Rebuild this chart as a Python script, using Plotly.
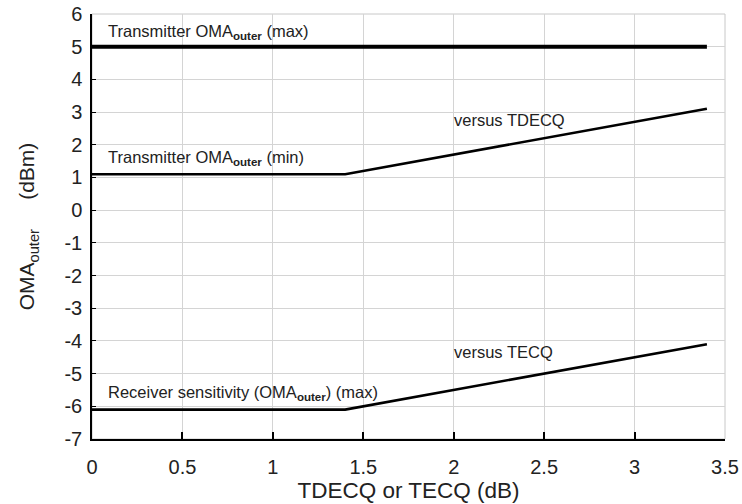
import plotly.graph_objects as go

# Data
x_max = [0, 3.4]
y_max = [5, 5]
x_tx_min = [0, 1.4, 3.4]
y_tx_min = [1.1, 1.1, 3.1]
x_rx = [0, 1.4, 3.4]
y_rx = [-6.1, -6.1, -4.1]

x_ticks = [0, 0.5, 1, 1.5, 2, 2.5, 3, 3.5]
x_tick_labels = ["0", "0.5", "1", "1.5", "2", "2.5", "3", "3.5"]
y_ticks = list(range(-7, 7))
y_tick_labels = [str(v) for v in y_ticks]

label_text = [
    "Transmitter OMA<sub><b>outer</b></sub> (max)",
    "Transmitter OMA<sub><b>outer</b></sub> (min)",
    "versus TDECQ",
    "versus TECQ",
    "Receiver sensitivity (OMA<sub><b>outer</b></sub>) (max)",
]
label_x = [0.08, 0.08, 1.99, 1.99, 0.08]
label_y = [5.45, 1.6, 2.75, -4.35, -5.6]

fig = go.Figure()
fig.add_trace(go.Scatter(x=x_max, y=y_max, mode="lines",
                         line=dict(color="black", width=4), showlegend=False))
fig.add_trace(go.Scatter(x=x_tx_min, y=y_tx_min, mode="lines",
                         line=dict(color="black", width=2.6), showlegend=False))
fig.add_trace(go.Scatter(x=x_rx, y=y_rx, mode="lines",
                         line=dict(color="black", width=2.6), showlegend=False))

for t, xx, yy in zip(label_text, label_x, label_y):
    fig.add_annotation(x=xx, y=yy, text=t, showarrow=False, xanchor="left",
                       yanchor="middle", font=dict(size=16.5, color="#222"))

fig.add_shape(type="rect", xref="paper", yref="paper", x0=0, y0=0, x1=1, y1=1,
              line=dict(color="#c8c8c8", width=1), layer="below")

fig.update_layout(
    width=742, height=504,
    margin=dict(l=92, r=17, t=14, b=65),
    paper_bgcolor="white", plot_bgcolor="white",
    font=dict(family="Liberation Sans, Arial, sans-serif", color="#222"),
    xaxis=dict(range=[0, 3.5], tickvals=x_ticks, ticktext=x_tick_labels,
               automargin=False,
               showgrid=True, gridcolor="#d4d4d4", gridwidth=1,
               showline=True, linecolor="black", linewidth=1.5,
               ticks="inside", ticklen=7, tickcolor="black", tickwidth=2,
               ticklabelstandoff=9,
               tickfont=dict(size=20), zeroline=False,
               title=dict(text="TDECQ or TECQ (dB)", font=dict(size=22.5), standoff=0)),
    yaxis=dict(range=[-7, 6], tickvals=y_ticks, ticktext=y_tick_labels,
               automargin=False,
               showgrid=True, gridcolor="#d4d4d4", gridwidth=1,
               showline=True, linecolor="black", linewidth=1.5,
               ticks="inside", ticklen=4, tickcolor="black", tickwidth=1,
               ticklabelstandoff=4,
               tickfont=dict(size=20), zeroline=False,
               title=dict(text="OMA<sub>outer</sub>     (dBm)", font=dict(size=21), standoff=24)),
)

fig.write_html(
    "out.html",
    config={"displayModeBar": False},
    post_script="document.body.style.margin='0';document.body.style.overflow='hidden';",
)
